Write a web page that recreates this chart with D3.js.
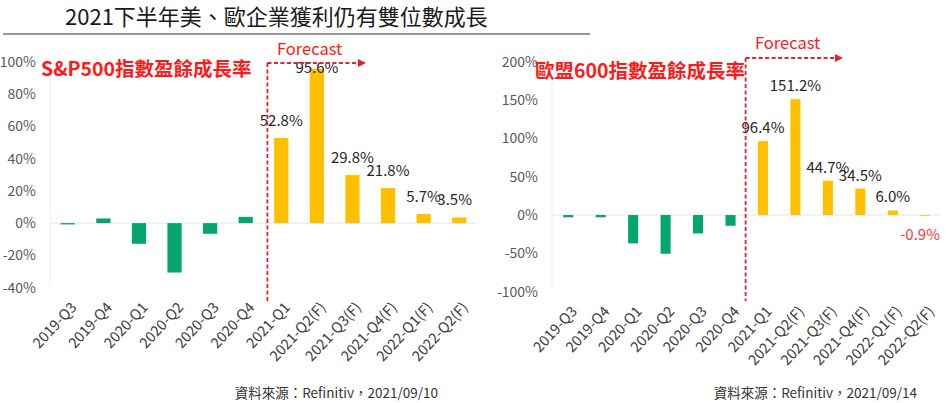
<!DOCTYPE html>
<html>
<head>
<meta charset="utf-8">
<script src="https://cdn.jsdelivr.net/npm/d3@7"></script>
<style>
  html, body { margin: 0; padding: 0; background: #fff; }
  svg { display: block; font-family: "Noto Sans CJK TC", "Noto Sans", sans-serif; }
</style>
</head>
<body>
<svg id="chart" width="946" height="403"></svg>
<script>
// quarters shown on both charts
var quarters = ['2019-Q3', '2019-Q4', '2020-Q1', '2020-Q2', '2020-Q3', '2020-Q4',
                '2021-Q1', '2021-Q2(F)', '2021-Q3(F)', '2021-Q4(F)', '2022-Q1(F)', '2022-Q2(F)'];
var forecastFrom = 6; // index where the yellow (forecast) bars begin

// earnings growth, in %
var spGrowth = [-0.8, 2.9, -12.8, -30.6, -6.6, 3.9, 52.8, 95.6, 29.8, 21.8, 5.7, 3.5];
var euGrowth = [-3.0, -3.0, -37.0, -50.5, -24.0, -14.0, 96.4, 151.2, 44.7, 34.5, 6.0, -0.9];

// which bars carry a value label
var spLabelled = [false, false, false, false, false, false, true, true, true, true, true, true];
var euLabelled = [false, false, false, false, false, false, true, true, true, true, true, true];

var spTicks = [-40, -20, 0, 20, 40, 60, 80, 100];
var euTicks = [-100, -50, 0, 50, 100, 150, 200];

var titleText = '2021下半年美、歐企業獲利仍有雙位數成長';

var svg = d3.select('#chart');

// main title and rule under it
svg.append('text')
    .attr('x', 65).attr('y', 25)
    .style('font-size', '22px')
    .style('fill', '#1a1a1a')
    .text(titleText);
svg.append('line')
    .attr('x1', 3).attr('x2', 590)
    .attr('y1', 34).attr('y2', 34)
    .style('stroke', '#333')
    .style('stroke-width', 1.2);

drawPanel({
    values: spGrowth,
    labelled: spLabelled,
    ticks: spTicks,
    domain: [-40, 100],
    xRange: [50, 477],
    yRange: [287.7, 61.7],
    inner: 0.6,
    axisX: 36,
    labelGap: 12,
    labelRight: 472,
    name: 'S&P500指數盈餘成長率',
    nameX: 41, nameY: 75,
    splitOffset: 0.19,
    arrowY: 63, arrowEnd: 366,
    forecastX: 277, forecastY: 55,
    source: '資料來源：Refinitiv，2021/09/10',
    sourceX: 438
});

drawPanel({
    values: euGrowth,
    labelled: euLabelled,
    ticks: euTicks,
    domain: [-100, 200],
    xRange: [552, 941.5],
    yRange: [291.7, 61.7],
    inner: 0.69,
    axisX: 538,
    labelGap: 8,
    labelRight: 940,
    name: '歐盟600指數盈餘成長率',
    nameX: 535, nameY: 77,
    splitOffset: 0.38,
    arrowY: 58, arrowEnd: 843,
    forecastX: 755, forecastY: 49,
    source: '資料來源：Refinitiv，2021/09/14',
    sourceX: 917
});

function drawPanel(p) {
    var g = svg.append('g');

    var x = d3.scaleBand()
        .domain(quarters)
        .range(p.xRange)
        .paddingInner(p.inner)
        .paddingOuter(p.inner / 2);
    var y = d3.scaleLinear()
        .domain(p.domain)
        .range(p.yRange);

    // faint frame lines: left edge and zero line
    g.append('line')
        .attr('x1', p.xRange[0]).attr('x2', p.xRange[0])
        .attr('y1', y(p.domain[1])).attr('y2', y(p.domain[0]))
        .style('stroke', '#f0f0f0');
    g.append('line')
        .attr('x1', p.xRange[0]).attr('x2', p.xRange[1])
        .attr('y1', y(0)).attr('y2', y(0))
        .style('stroke', '#e6e6e6');

    // y axis, labels only
    var yAxis = d3.axisLeft(y)
        .tickValues(p.ticks)
        .tickSize(0)
        .tickPadding(0)
        .tickFormat(function (d) { return d + '%'; });
    var ya = g.append('g')
        .attr('transform', 'translate(' + p.axisX + ',0)')
        .call(yAxis);
    ya.select('.domain').remove();
    ya.selectAll('text')
        .style('font-family', '"Noto Sans CJK TC", sans-serif')
        .style('font-size', '14px')
        .style('fill', '#595959');

    // x axis, rotated labels only
    var xAxis = d3.axisBottom(x).tickSize(0).tickPadding(0);
    var xa = g.append('g')
        .attr('transform', 'translate(0,' + (y(p.domain[0]) + 17) + ')')
        .call(xAxis);
    xa.select('.domain').remove();
    xa.selectAll('text')
        .style('font-family', '"Noto Sans CJK TC", sans-serif')
        .style('font-size', '14.5px')
        .style('fill', '#404040')
        .style('text-anchor', 'end')
        .attr('y', 0)
        .attr('dy', '0.35em')
        .attr('transform', 'translate(6,0) rotate(-47)');

    // bars
    var rows = p.values.map(function (v, i) {
        return { q: quarters[i], v: v, i: i, lab: p.labelled[i] };
    });
    g.selectAll('rect.bar')
        .data(rows)
        .enter().append('rect')
        .attr('class', 'bar')
        .attr('x', function (d) { return x(d.q); })
        .attr('width', x.bandwidth())
        .attr('y', function (d) { return y(Math.max(0, d.v)); })
        .attr('height', function (d) { return Math.abs(y(d.v) - y(0)); })
        .style('fill', function (d) { return d.i < forecastFrom ? '#05a66d' : '#ffc000'; });

    // value labels
    var top = y(p.domain[1]) + 11;
    g.selectAll('text.val')
        .data(rows.filter(function (d) { return d.lab; }))
        .enter().append('text')
        .attr('class', 'val')
        .attr('text-anchor', 'middle')
        .style('font-size', '15px')
        .style('fill', function (d) { return d.v < 0 ? '#f23b3b' : '#262626'; })
        .attr('y', function (d) {
            if (d.v < 0) return y(d.v) + 24;
            return Math.max(top, y(d.v) - p.labelGap);
        })
        .text(function (d) { return d.v.toFixed(1) + '%'; })
        .attr('x', function (d) {
            var cx = x(d.q) + x.bandwidth() / 2;
            var w = this.getComputedTextLength();
            return Math.min(cx, p.labelRight - w / 2);
        });

    // forecast marker: dashed split line with arrow
    var splitX = x(quarters[forecastFrom]) - x.step() * p.splitOffset;
    var red = '#e8202a';
    g.append('line')
        .attr('x1', splitX).attr('x2', splitX)
        .attr('y1', p.arrowY).attr('y2', 301)
        .style('stroke', red)
        .style('stroke-width', 1.8)
        .style('stroke-dasharray', '4,2.5');
    g.append('line')
        .attr('x1', splitX).attr('x2', p.arrowEnd - 7)
        .attr('y1', p.arrowY).attr('y2', p.arrowY)
        .style('stroke', red)
        .style('stroke-width', 1.8)
        .style('stroke-dasharray', '4,2.5');
    g.append('path')
        .attr('d', 'M' + (p.arrowEnd - 8) + ',' + (p.arrowY - 4) +
                   'L' + p.arrowEnd + ',' + p.arrowY +
                   'L' + (p.arrowEnd - 8) + ',' + (p.arrowY + 4) + 'Z')
        .style('fill', red);
    g.append('text')
        .attr('x', p.forecastX).attr('y', p.forecastY)
        .style('font-size', '16.5px')
        .style('fill', '#ff1a1a')
        .text('Forecast');

    // red panel title
    g.append('text')
        .attr('x', p.nameX).attr('y', p.nameY + 1)
        .style('font-size', '19.5px')
        .style('font-weight', 'bold')
        .style('fill', '#ff1a1a')
        .text(p.name);

    // source note
    g.append('text')
        .attr('x', p.sourceX).attr('y', 398)
        .attr('text-anchor', 'end')
        .style('font-size', '13.5px')
        .style('fill', '#333')
        .text(p.source);
}
</script>
</body>
</html>
